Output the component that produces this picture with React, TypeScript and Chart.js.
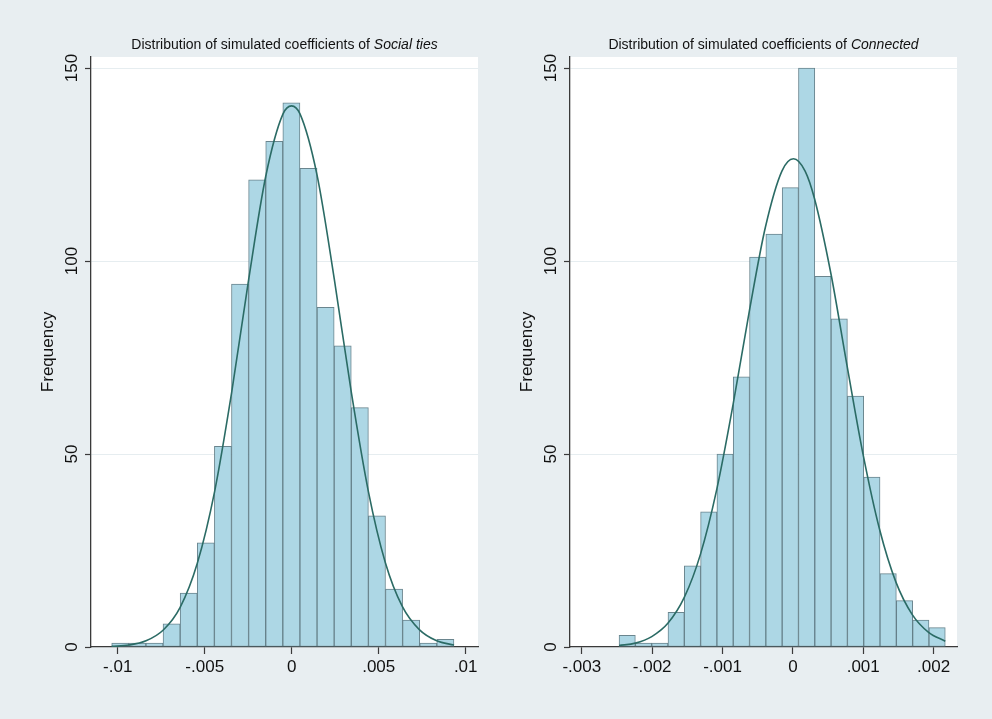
import React, { useEffect, useRef } from "react";
import { Chart, registerables } from "chart.js";

Chart.register(...registerables);

const FONT = "'Liberation Sans', Arial, Helvetica, sans-serif";
const PAGE_BG = "#E8EEF1";
const BAR_FILL = "#ADD7E5";
const BAR_EDGE = "rgba(90,120,130,0.9)";
const CURVE = "#2B6B65";
const AXIS = "#3A3A3A";
const GRID = "#E6EDF0";
const TEXT = "#111111";

// ---------- Left panel: Social ties ----------
const socialBinCenters = [
  -0.009853, -0.00887, -0.007886, -0.006903, -0.005919, -0.004936, -0.003952,
  -0.002969, -0.001985, -0.001002, -0.000018, 0.000965, 0.001949, 0.002932,
  0.003916, 0.004899, 0.005883, 0.006866, 0.00785, 0.008833,
];
const socialCounts = [1, 1, 1, 6, 14, 27, 52, 94, 121, 131, 141, 124, 88, 78, 62, 34, 15, 7, 1, 2];
const socialCurveX = [
  -0.010345, -0.009356, -0.008373, -0.007379, -0.006419, -0.005425, -0.004425,
  -0.003448, -0.002471, -0.001494, -0.0005, -0.000011, 0.000477, 0.001454,
  0.002448, 0.003425, 0.004402, 0.005379, 0.006356, 0.007333, 0.008333, 0.009328,
];
const socialCurveY = [
  0.15, 0.5, 1.6, 4.4, 10.2, 21.7, 40.4, 66, 95.3, 121.9, 138.1, 140.2, 138.1,
  122.3, 95.3, 66, 40.4, 21.9, 10.5, 4.5, 1.6, 0.5,
];
const socialTickValues = [-0.01, -0.005, 0, 0.005, 0.01];
const socialTickLabels = ["-.01", "-.005", "0", ".005", ".01"];
const socialRange = [-0.011535, 0.010707];

// ---------- Right panel: Connected ----------
const connectedBinCenters = [
  -0.0023549, -0.002123, -0.0018912, -0.0016593, -0.0014275, -0.0011956,
  -0.0009637, -0.0007319, -0.0005, -0.0002682, -0.0000363, 0.0001955,
  0.0004274, 0.0006592, 0.0008911, 0.001123, 0.0013548, 0.0015867, 0.0018185,
  0.0020504,
];
const connectedCounts = [3, 1, 1, 9, 21, 35, 50, 70, 101, 107, 119, 150, 96, 85, 65, 44, 19, 12, 7, 5];
const connectedCurveX = [
  -0.002471, -0.002239, -0.002006, -0.001774, -0.001542, -0.001314, -0.001081,
  -0.000849, -0.000617, -0.00039, -0.000156, 0.0000085, 0.000174, 0.000307,
  0.000541, 0.000768, 0.001, 0.001232, 0.001465, 0.001697, 0.001929, 0.002166,
];
const connectedCurveY = [
  0.37, 1.0, 2.7, 6.2, 12.9, 24.0, 40.9, 62.9, 87.2, 108.8, 123.3, 126.5, 123.3,
  116.2, 96.7, 73.1, 49.7, 30.5, 16.8, 8.4, 3.8, 1.5,
];
const connectedTickValues = [-0.003, -0.002, -0.001, 0, 0.001, 0.002];
const connectedTickLabels = ["-.003", "-.002", "-.001", "0", ".001", ".002"];
const connectedRange = [-0.003168, 0.002333];

// ---------- Shared y axis ----------
const freqTickValues = [0, 50, 100, 150];
const freqTickLabels = ["0", "50", "100", "150"];
const freqMax = 152.85;

const CANVAS_W = 496;
const CANVAS_H = 719;

const plotBg = {
  id: "plotBg",
  beforeDraw(chart: any) {
    const { ctx, chartArea } = chart;
    if (!chartArea) return;
    ctx.save();
    ctx.fillStyle = "#FFFFFF";
    ctx.fillRect(chartArea.left, chartArea.top, chartArea.right - chartArea.left, chartArea.bottom - chartArea.top);
    ctx.restore();
  },
};

type PanelProps = {
  left: number;
  binCenters: number[];
  counts: number[];
  curveX: number[];
  curveY: number[];
  tickValues: number[];
  tickLabels: string[];
  range: number[];
};

function Panel(props: PanelProps) {
  const ref = useRef<HTMLCanvasElement | null>(null);
  useEffect(() => {
    if (!ref.current) return;
    const { binCenters, counts, curveX, curveY, tickValues, tickLabels, range } = props;
    const chart = new Chart(ref.current, {
      type: "bar",
      data: {
        datasets: [
          {
            type: "line",
            data: curveX.map((x, i) => ({ x, y: curveY[i] })),
            borderColor: CURVE,
            borderWidth: 1.6,
            pointRadius: 0,
            cubicInterpolationMode: "monotone",
            fill: false,
            order: 0,
          } as any,
          {
            type: "bar",
            data: binCenters.map((x, i) => ({ x, y: counts[i] })),
            backgroundColor: BAR_FILL,
            borderColor: BAR_EDGE,
            borderWidth: 1,
            borderSkipped: false,
            barPercentage: 1,
            categoryPercentage: 1,
            order: 1,
          } as any,
        ],
      },
      options: {
        animation: false,
        responsive: false,
        maintainAspectRatio: false,
        devicePixelRatio: 1,
        layout: { padding: { left: 0, top: 57, right: 18, bottom: 0 } },
        plugins: {
          legend: { display: false },
          tooltip: { enabled: false },
          title: { display: false },
        },
        scales: {
          x: {
            type: "linear",
            min: range[0],
            max: range[1],
            offset: false,
            grid: {
              offset: false,
              drawOnChartArea: false,
              drawTicks: true,
              tickLength: 7,
              tickColor: AXIS,
              tickWidth: 1.2,
            },
            border: { display: true, color: AXIS, width: 1.3 },
            ticks: {
              autoSkip: false,
              maxRotation: 0,
              minRotation: 0,
              padding: 3,
              color: TEXT,
              font: { family: FONT, size: 17 },
              callback: (v: any) => {
                const i = tickValues.indexOf(Number(v));
                return i >= 0 ? tickLabels[i] : "";
              },
            },
            afterBuildTicks: (s: any) => {
              s.ticks = tickValues.map((v) => ({ value: v }));
            },
            afterFit: (s: any) => {
              s.height = CANVAS_H - 647;
            },
          } as any,
          y: {
            type: "linear",
            min: 0,
            max: freqMax,
            grid: {
              color: (c: any) => (c.tick && c.tick.value === 0 ? "rgba(0,0,0,0)" : GRID),
              lineWidth: 1,
              drawTicks: true,
              tickLength: 6,
              tickColor: AXIS,
              tickWidth: 1.2,
            },
            border: { display: true, color: AXIS, width: 1.3 },
            ticks: {
              autoSkip: false,
              minRotation: 90,
              maxRotation: 90,
              crossAlign: "center",
              padding: -1,
              color: TEXT,
              font: { family: FONT, size: 17 },
              callback: (v: any) => {
                const i = freqTickValues.indexOf(Number(v));
                return i >= 0 ? freqTickLabels[i] : "";
              },
            },
            afterBuildTicks: (s: any) => {
              s.ticks = freqTickValues.map((v) => ({ value: v }));
            },
            afterFit: (s: any) => {
              s.width = 91;
            },
            title: {
              display: true,
              text: "Frequency",
              color: TEXT,
              font: { family: FONT, size: 17 },
              padding: { top: 38.5, bottom: 0 },
            },
          } as any,
        },
      },
      plugins: [plotBg],
    });
    return () => chart.destroy();
  }, []);
  return (
    <canvas
      ref={ref}
      width={CANVAS_W}
      height={CANVAS_H}
      style={{ position: "absolute", left: props.left, top: 0, width: CANVAS_W, height: CANVAS_H }}
    />
  );
}

const titleStyle: React.CSSProperties = {
  position: "absolute",
  top: 36,
  width: 387,
  textAlign: "center",
  fontFamily: FONT,
  fontSize: 14,
  lineHeight: "16px",
  color: TEXT,
  whiteSpace: "nowrap",
  zIndex: 2,
};

export default function App() {
  return (
    <div
      style={{
        position: "fixed",
        left: 0,
        top: 0,
        width: 992,
        height: 719,
        background: PAGE_BG,
        overflow: "hidden",
      }}
    >
      <Panel
        left={0}
        binCenters={socialBinCenters}
        counts={socialCounts}
        curveX={socialCurveX}
        curveY={socialCurveY}
        tickValues={socialTickValues}
        tickLabels={socialTickLabels}
        range={socialRange}
      />
      <Panel
        left={479}
        binCenters={connectedBinCenters}
        counts={connectedCounts}
        curveX={connectedCurveX}
        curveY={connectedCurveY}
        tickValues={connectedTickValues}
        tickLabels={connectedTickLabels}
        range={connectedRange}
      />
      <div style={{ ...titleStyle, left: 91 }}>
        Distribution of simulated coefficients of <i>Social ties</i>
      </div>
      <div style={{ ...titleStyle, left: 570 }}>
        Distribution of simulated coefficients of <i>Connected</i>
      </div>
    </div>
  );
}
